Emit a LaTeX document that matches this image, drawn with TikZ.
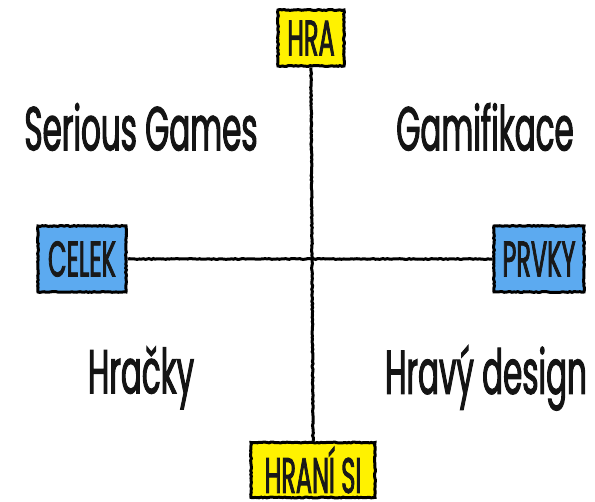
\documentclass[tikz,border=0pt]{standalone}
\usepackage{fontspec}
\newfontfamily\condfont{Poppins}[FakeStretch=0.5,FakeBold=1.6]
\newfontfamily\boxfont{Poppins}[FakeStretch=0.48,FakeBold=1.6]
\usetikzlibrary{decorations.pathmorphing}
\definecolor{boxyellow}{RGB}{255,242,0}
\definecolor{boxblue}{RGB}{92,170,240}
\begin{document}
\begin{tikzpicture}[x=1pt,y=1pt,
  rough/.style={decorate,decoration={random steps,segment length=2pt,amplitude=0.45pt}},
  axisbox/.style={draw=black,line width=3pt,rough,inner sep=0pt,font=\boxfont\fontsize{50}{50}\selectfont,text=black!90},
  ybox/.style={axisbox,fill=boxyellow},
  bbox/.style={axisbox,fill=boxblue},
  axisline/.style={line width=3pt,rough,black},
  quad/.style={font=\condfont\fontsize{62}{62}\selectfont,text=black!92,inner sep=0pt}
]
\useasboundingbox (0,0) rectangle (595,502);
% boxes (y = 502 - pixel y)
\node[ybox,minimum width=66pt,minimum height=56pt] (hra) at (311,464) {HRA};
\node[ybox,minimum width=124pt,minimum height=55pt] (hrani) at (313,32) {HRANÍ SI};
\node[bbox,minimum width=88pt,minimum height=66pt] (celek) at (82,243) {CELEK};
\node[bbox,minimum width=90pt,minimum height=66pt] (prvky) at (539,243) {PRVKY};
% axes
\draw[axisline] (hra.south) -- (hrani.north);
\draw[axisline] (celek.east) -- (prvky.west);
% quadrant labels
\node[quad] (serious) at (141,375) {Serious Games};
\node[quad] (gamif) at (485,375) {Gamifikace};
\node[quad] (hracky) at (141,124) {Hračky};
\node[quad] (hravy) at (486,124) {Hravý design};
\end{tikzpicture}
\end{document}
